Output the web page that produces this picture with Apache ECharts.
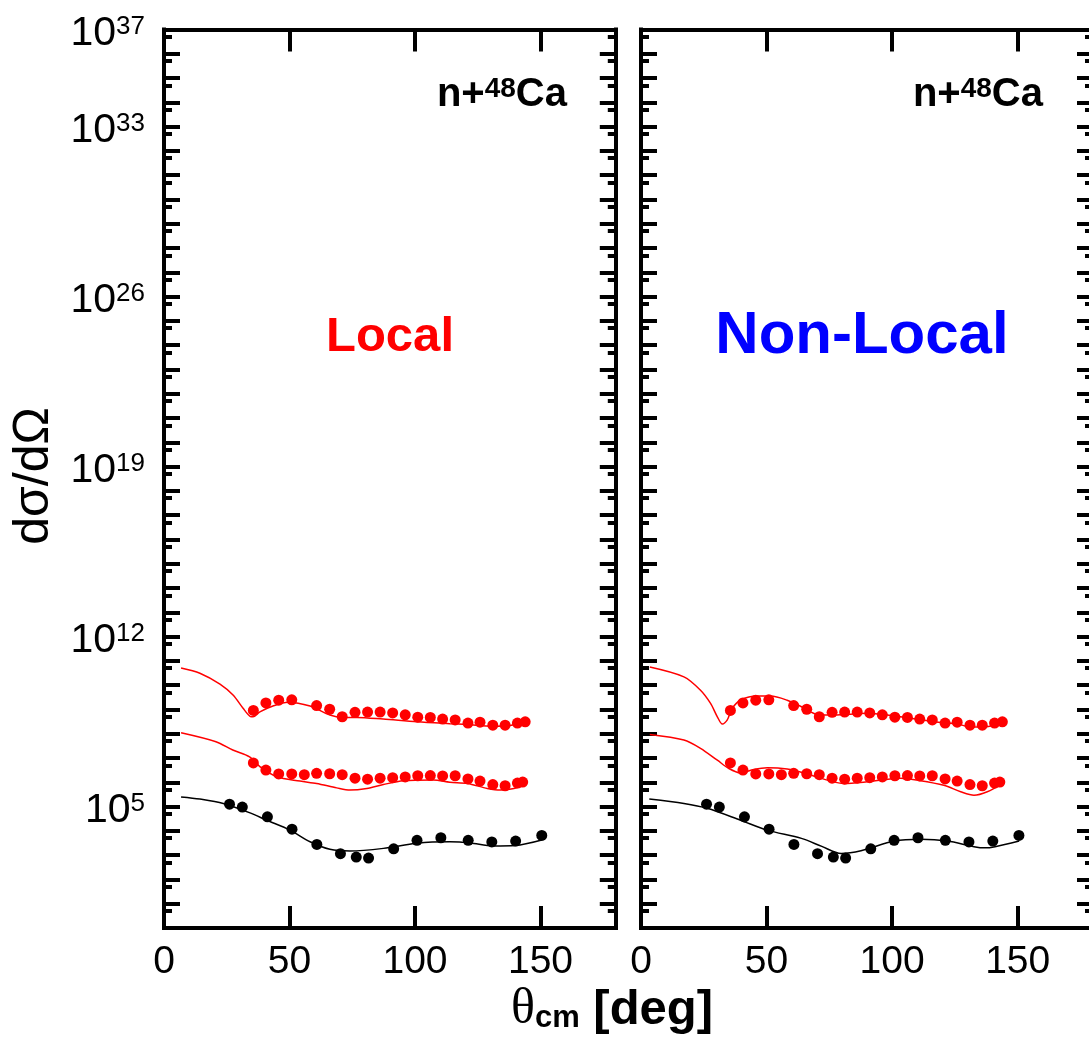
<!DOCTYPE html>
<html>
<head>
<meta charset="utf-8">
<script src="https://cdn.jsdelivr.net/npm/echarts@6/dist/echarts.min.js"></script>
<style>html,body{margin:0;padding:0;background:#fff}#c{width:1089px;height:1042px}</style>
</head>
<body>
<div id="c"></div>
<script>
// ---------------- DATA ----------------
// x tick labels (deg) and y tick label exponents
const xTicks = [0, 50, 100, 150];
const yLabelExps = [5, 12, 19, 26, 33, 37];

// experimental points (same in both panels)
const blackAngles = [26.1, 31.2, 41.2, 51.0, 60.9, 70.3, 76.6, 81.5, 91.5, 100.8, 110.3, 121.2, 130.6, 140.1, 150.5];
const blackValues = [1.26e5, 9.5e4, 3.8e4, 1.17e4, 2.75e3, 1.15e3, 8.3e2, 7.6e2, 1.82e3, 4.1e3, 5.2e3, 4.1e3, 3.5e3, 3.8e3, 6.5e3];

const midAngles = [35.6, 40.6, 45.7, 50.9, 55.9, 60.8, 66.0, 71.0, 76.1, 81.1, 86.1, 91.1, 96.1, 101.1, 106.1, 111.0, 116.0, 121.1, 125.9, 131.0, 135.9, 140.8, 142.9];
const midValues = [6.3e6, 3.2e6, 2.2e6, 2.2e6, 2.05e6, 2.35e6, 2.25e6, 2.05e6, 1.48e6, 1.35e6, 1.48e6, 1.55e6, 1.66e6, 1.86e6, 1.9e6, 1.82e6, 1.86e6, 1.38e6, 1.12e6, 8.1e5, 7.2e5, 9.3e5, 1.02e6];

const topAngles = [35.6, 40.6, 45.7, 50.9, 60.8, 66.0, 71.0, 76.1, 81.1, 86.1, 91.1, 96.1, 101.1, 106.1, 111.0, 116.0, 121.1, 125.9, 131.0, 135.9, 140.8, 143.9];
const topValues = [9.1e8, 1.86e9, 2.4e9, 2.5e9, 1.45e9, 1.02e9, 5.0e8, 7.6e8, 7.8e8, 7.8e8, 7.2e8, 6.0e8, 4.8e8, 4.7e8, 4.0e8, 3.7e8, 2.75e8, 3.0e8, 2.24e8, 2.24e8, 2.75e8, 3.1e8];

// calculations: local potential (left panel)  [angle, value]
const localTop = [[6.8,5.1e10],[14.3,3.1e10],[22.3,1.1e10],[27.5,3.9e9],[31.5,1.12e9],[34.3,5.2e8],[35.5,5.0e8],[38.2,7.9e8],[43.4,1.38e9],[49.4,2.0e9],[58.2,1.38e9],[66.1,5.9e8],[70.9,4.7e8],[76.9,4.7e8],[87.3,4.0e8],[100.8,3.1e8],[113.9,2.6e8],[120.7,2.4e8],[131.1,2.04e8],[137.8,2.2e8],[143.8,3.1e8]];
const localMid = [[6.8,1.1e8],[20.7,4.7e7],[27.4,2.14e7],[34.1,1.12e7],[38.2,4.4e6],[44.9,1.7e6],[54.2,1.12e6],[60.8,8.9e5],[68.8,5.9e5],[74.1,4.8e5],[80.8,5.6e5],[87.4,8.1e5],[95.4,1.15e6],[107.3,1.23e6],[113.9,1.0e6],[120.9,8.9e5],[128.8,5.6e5],[134.1,4.8e5],[139.4,5.6e5],[143.4,7.6e5]];
const localBlack = [[6.8,2.5e5],[14.3,2.04e5],[23.6,1.35e5],[34.3,5.5e4],[40.9,2.75e4],[50.2,1.07e4],[58.2,3.55e3],[66.1,1.74e3],[74.1,1.48e3],[87.4,1.9e3],[100.7,3.1e3],[113.9,3.55e3],[122,3.2e3],[131,2.4e3],[140,2.5e3],[150.5,4.2e3]];

// calculations: non-local potential (right panel)
const nonlocalTop = [[3.5,5.6e10],[17.1,2.2e10],[23.7,6.2e9],[27.7,1.78e9],[30.4,5.0e8],[32.4,2.5e8],[34.3,3.6e8],[36.3,1.1e9],[39.6,2.4e9],[46.3,3.55e9],[51.6,3.55e9],[58.2,2.4e9],[63.9,1.29e9],[70.2,6.2e8],[76.8,5.9e8],[90.1,6.9e8],[103.4,5.0e8],[116.7,3.1e8],[126.0,2.5e8],[131.3,1.9e8],[136.6,1.9e8],[140.6,2.24e8],[143.9,3.1e8]];
const nonlocalMid = [[3.5,9.3e7],[17.1,5.5e7],[23.7,2.5e7],[30.4,8.1e6],[35.0,3.7e6],[39.6,2.45e6],[44.9,3.4e6],[50.3,4.0e6],[58.2,3.5e6],[66.2,2.2e6],[74.2,1.23e6],[80.8,8.9e5],[90.1,1.05e6],[103.4,1.48e6],[110.0,1.23e6],[120.6,7.6e5],[127.3,4.1e5],[132.6,2.95e5],[137.9,4.1e5],[143.9,8.9e5]];
const nonlocalBlack = [[3.3,2.04e5],[17.1,1.35e5],[26.4,8.5e4],[39.6,2.75e4],[50.3,1.07e4],[63.9,4.9e3],[72,2.3e3],[79.7,1.17e3],[87.6,1.51e3],[100.9,3.8e3],[111.4,4.5e3],[122.1,3.8e3],[132.6,2.24e3],[137,2.0e3],[141,2.24e3],[150.6,3.8e3]];

// ---------------- CHART ----------------
const FONT = "'Liberation Sans', Arial, Helvetica, sans-serif";
const minorTickExps = [];
for (let n = 0; n < 37; n++) minorTickExps.push(n + Math.log10(5));

const pairs = (a, v) => a.map((x, i) => [x, v[i]]);

function mkX(g, pos, showLabel) {
  return {
    gridIndex: g, type: 'value', min: 0, max: 180, position: pos,
    axisLine: { show: true, onZero: false, lineStyle: { color: '#000', width: 4, cap: 'square' } },
    axisTick: { show: true, inside: true, length: 22, customValues: xTicks, lineStyle: { color: '#000', width: 4 } },
    axisLabel: { show: showLabel, customValues: xTicks, margin: 15, fontSize: 39, color: '#000', fontFamily: FONT },
    splitLine: { show: false }
  };
}
function mkYLog(g, pos, labels) {
  return {
    gridIndex: g, type: 'log', logBase: 10, min: 1, max: 1e37, interval: 1, position: pos,
    axisLine: { show: true, onZero: false, lineStyle: { color: '#000', width: 4, cap: 'square' } },
    axisTick: { show: true, inside: true, length: 16, lineStyle: { color: '#000', width: 4 } },
    minorTick: { show: false },
    axisLabel: {
      show: labels, interval: 0, showMinLabel: true, showMaxLabel: true, margin: 19,
      padding: [8, 0, 0, 0], color: '#000', fontFamily: FONT,
      formatter: function (v) {
        const e = Math.round(Math.log10(v));
        return yLabelExps.indexOf(e) >= 0 ? '{b|10}{s|' + e + '}' : '';
      },
      rich: {
        b: { fontSize: 41, lineHeight: 40, fontFamily: FONT, color: '#000' },
        s: { fontSize: 26, lineHeight: 12, verticalAlign: 'top', fontFamily: FONT, color: '#000' }
      }
    },
    splitLine: { show: false }
  };
}
function mkYMinor(g, pos) {
  return {
    gridIndex: g, type: 'value', min: 0, max: 37, position: pos,
    axisLine: { show: false, onZero: false },
    axisTick: { show: true, inside: true, length: 8, customValues: minorTickExps, lineStyle: { color: '#000', width: 4 } },
    axisLabel: { show: false }, splitLine: { show: false }
  };
}
function scat(g, data, color) {
  return { type: 'scatter', xAxisIndex: g * 2, yAxisIndex: g * 4, data: data, symbol: 'circle', symbolSize: 11,
           itemStyle: { color: color, opacity: 1 }, z: 4, silent: true };
}
function curve(g, data, color) {
  return { type: 'line', xAxisIndex: g * 2, yAxisIndex: g * 4, data: data, showSymbol: false, smooth: 0.3,
           lineStyle: { color: color, width: 1.5 }, z: 3, silent: true };
}

const annRich = {
  b: { fontSize: 40, fontWeight: 'bold', fontFamily: FONT, fill: '#000', lineHeight: 40 },
  s: { fontSize: 28, fontWeight: 'bold', fontFamily: FONT, fill: '#000', lineHeight: 2, verticalAlign: 'top' }
};

const chart = echarts.init(document.getElementById('c'), null, { renderer: 'canvas' });
const option = {
  animation: false,
  backgroundColor: '#fff',
  grid: [
    { left: 164, top: 29.5, width: 451.8, height: 898.5, outerBoundsMode: 'none', containLabel: false },
    { left: 641, top: 29.5, width: 452, height: 898.5, outerBoundsMode: 'none', containLabel: false }
  ],
  xAxis: [mkX(0, 'bottom', true), mkX(0, 'top', false), mkX(1, 'bottom', true), mkX(1, 'top', false)],
  yAxis: [mkYLog(0, 'left', true), mkYLog(0, 'right', false), mkYMinor(0, 'left'), mkYMinor(0, 'right'),
          mkYLog(1, 'left', false), mkYLog(1, 'right', false), mkYMinor(1, 'left'), mkYMinor(1, 'right')],
  series: [
    curve(0, localTop, '#ff0000'), curve(0, localMid, '#ff0000'), curve(0, localBlack, '#000'),
    scat(0, pairs(topAngles, topValues), '#ff0000'), scat(0, pairs(midAngles, midValues), '#ff0000'), scat(0, pairs(blackAngles, blackValues), '#000'),
    curve(1, nonlocalTop, '#ff0000'), curve(1, nonlocalMid, '#ff0000'), curve(1, nonlocalBlack, '#000'),
    scat(1, pairs(topAngles, topValues), '#ff0000'), scat(1, pairs(midAngles, midValues), '#ff0000'), scat(1, pairs(blackAngles, blackValues), '#000')
  ],
  graphic: [
    { type: 'text', x: 567, y: 95, silent: true, style: { text: '{b|n+}{s|48}{b|Ca}', align: 'right', verticalAlign: 'middle', rich: annRich } },
    { type: 'text', x: 1043, y: 95, silent: true, style: { text: '{b|n+}{s|48}{b|Ca}', align: 'right', verticalAlign: 'middle', rich: annRich } },
    { type: 'text', x: 390, y: 337, silent: true, style: { text: 'Local', align: 'center', verticalAlign: 'middle',
        font: 'bold 49px ' + FONT, fill: '#ff0000' } },
    { type: 'text', x: 862, y: 336, silent: true, style: { text: 'Non-Local', align: 'center', verticalAlign: 'middle',
        font: 'bold 60px ' + FONT, fill: '#0000ff' } },
    { type: 'text', x: 612, y: 1010, silent: true, style: {
        text: '{t|θ}{c|cm}{d| [deg]}', align: 'center', verticalAlign: 'middle',
        rich: { t: { fontSize: 50, fontFamily: "'Liberation Serif', serif", fill: '#000', lineHeight: 48 },
                c: { fontSize: 31, fontWeight: 'bold', fontFamily: FONT, fill: '#000', lineHeight: 14, verticalAlign: 'bottom' },
                d: { fontSize: 49, fontWeight: 'bold', fontFamily: FONT, fill: '#000', lineHeight: 48 } } } },
    { type: 'text', x: 34, y: 476, rotation: Math.PI / 2, silent: true, style: {
        text: 'dσ/dΩ', align: 'center', verticalAlign: 'middle', font: '50px ' + FONT, fill: '#000' } }
  ]
};
chart.setOption(option);
</script>
</body>
</html>
